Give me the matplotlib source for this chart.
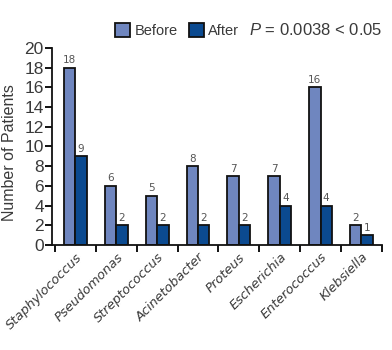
import numpy as np
import matplotlib
matplotlib.use("Agg")
import matplotlib.pyplot as plt
import matplotlib.transforms as mtrans
from matplotlib.patches import Patch

plt.rcParams['font.family'] = ['Liberation Sans', 'DejaVu Sans']
plt.rcParams['mathtext.fontset'] = 'custom'
plt.rcParams['mathtext.rm'] = 'Liberation Sans'
plt.rcParams['mathtext.it'] = 'Liberation Sans:italic'

# data
organisms = ['Staphylococcus', 'Pseudomonas', 'Streptococcus', 'Acinetobacter',
             'Proteus', 'Escherichia', 'Enterococcus', 'Klebsiella']
before = [18, 6, 5, 8, 7, 7, 16, 2]
after = [9, 2, 2, 2, 2, 4, 4, 1]

c_before = '#6f86bf'
c_after = '#0b4a90'
txt = '#3a3a3a'

fig = plt.figure(figsize=(3.92, 3.5), dpi=100)
ax = fig.add_axes([0.133, 0.30, 0.841, 0.563])

x = np.arange(len(organisms))
w = 0.28
b1 = ax.bar(x - w/2, before, w, color=c_before, edgecolor='#111111', linewidth=1.3)
b2 = ax.bar(x + w/2, after, w, color=c_after, edgecolor='#111111', linewidth=1.3)

for bars, vals in ((b1, before), (b2, after)):
    for r, v in zip(bars, vals):
        ax.text(r.get_x() + r.get_width()/2, v + 0.25, str(v), ha='center', va='bottom',
                fontsize=7.5, color='#555555', family='DejaVu Sans')

ax.set_xlim(-0.57, 7.5)
ax.set_ylim(0, 20)
ax.set_yticks(range(0, 21, 2))
ax.set_xticks(np.arange(-0.5, 8, 1))
ax.set_xticklabels([])
ax.set_xticks(x, minor=True)
labels = ax.set_xticklabels(organisms, minor=True, rotation=45, ha='right',
                            rotation_mode='anchor', fontsize=9.4, style='italic',
                            color=txt, family='DejaVu Sans')
shift = mtrans.ScaledTranslation(0.07, 0, fig.dpi_scale_trans)
for lb in labels:
    lb.set_transform(lb.get_transform() + shift)
ax.tick_params(axis='x', which='minor', length=0, pad=4)
ax.tick_params(axis='x', which='major', length=5, width=1.3, direction='out')
ax.tick_params(axis='y', length=5, width=1.3, direction='out', labelsize=12.5, labelcolor=txt, pad=1)

for s in ('top', 'right'):
    ax.spines[s].set_visible(False)
for s in ('left', 'bottom'):
    ax.spines[s].set_linewidth(1.3)
    ax.spines[s].set_color('#111111')

ax.set_ylabel('Number of Patients', fontsize=11.5, color=txt)
ax.yaxis.set_label_coords(-0.106, 0.467)

handles = [Patch(facecolor=c_before, edgecolor='#111111', linewidth=1.3, label='Before'),
           Patch(facecolor=c_after, edgecolor='#111111', linewidth=1.3, label='After')]
leg = fig.legend(handles=handles, ncol=2, frameon=False, loc='center left',
                 bbox_to_anchor=(0.293, 0.913), handlelength=1.05, handleheight=1.05,
                 handletextpad=0.3, columnspacing=0.75, fontsize=10.5, labelcolor=txt,
                 borderaxespad=0, borderpad=0)
fig.text(0.975, 0.913, r'$\it{P}$ = 0.0038 < 0.05', ha='right', va='center',
         fontsize=12, color=txt)

fig.savefig('out.png', dpi=100)
